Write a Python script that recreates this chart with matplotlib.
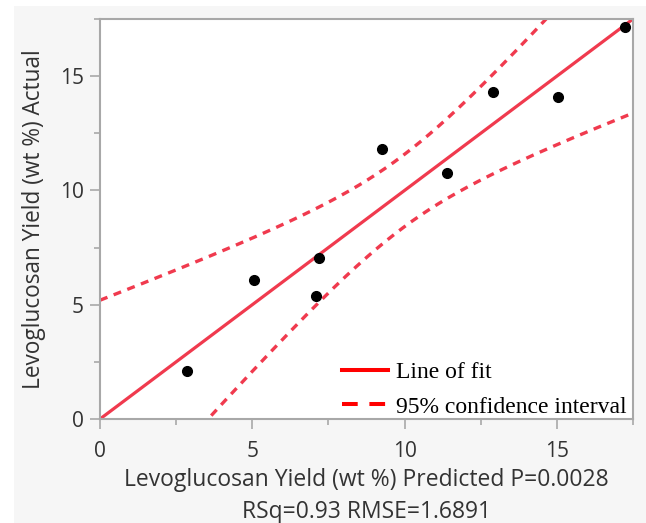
import matplotlib
matplotlib.use('Agg')
from matplotlib import pyplot
from matplotlib.lines import Line2D
from matplotlib.patches import Rectangle
import numpy as np

# predicted vs actual levoglucosan yield (wt %)
predicted = [2.85, 5.05, 7.1, 7.2, 9.25, 11.4, 12.9, 15.05, 17.25]
actual = [2.1, 6.1, 5.4, 7.05, 11.8, 10.75, 14.3, 14.1, 17.15]

# line of fit and band shape
fit_slope = 1.0
fit_intercept = 0.0
band_center = 9.9
band_a = 2.5
band_b = 0.25

x_ticks = [0, 5, 10, 15]
y_ticks = [0, 5, 10, 15]

fig = pyplot.figure(figsize=(6.46, 5.23), dpi=100)
fig.patch.set_facecolor('white')
fig.patches.append(Rectangle((14 / 646, 0), 1, 1 - 6 / 523, transform=fig.transFigure,
                             facecolor='#f6f6f6', edgecolor='none', zorder=-10))

ax = fig.add_axes([100 / 646, 104 / 523, 533 / 646, 400 / 523])
ax.set_facecolor('white')

xx = np.linspace(0, 17.5, 300)
fit = fit_intercept + fit_slope * xx
half = np.sqrt(band_a + band_b * (xx - band_center) ** 2)
line_col = '#f03a4e'
ax.plot(xx, fit, color=line_col, lw=2.3, zorder=2)
ax.plot(xx, fit + half, color=line_col, lw=2.4, ls=(0, (2.4, 2.0)), zorder=2)
ax.plot(xx, fit - half, color=line_col, lw=2.4, ls=(0, (2.4, 2.0)), zorder=2)
ax.plot(predicted, actual, 'o', color='black', ms=7, zorder=3)

ax.set_xlim(0, 17.5)
ax.set_ylim(0, 17.5)
ax.set_xticks(x_ticks)
ax.set_yticks(y_ticks)
ax.set_xticks([2.5, 7.5, 12.5, 17.5], minor=True)
ax.set_yticks([2.5, 7.5, 12.5, 17.5], minor=True)

for s in ax.spines.values():
    s.set_color('#a8a8a8')
    s.set_linewidth(1.5)
ax.tick_params(which='major', length=7.5, width=1.2, color='#a8a8a8',
               labelsize=15, labelcolor='#333333')
ax.tick_params(axis='x', which='major', pad=8)
ax.tick_params(axis='y', which='major', pad=4)
ax.tick_params(which='minor', length=4.5, width=1.2, color='#a8a8a8')
for lab in ax.get_xticklabels() + ax.get_yticklabels():
    lab.set_family('Open Sans')

ax.set_xlabel('Levoglucosan Yield (wt %) Predicted P=0.0028\nRSq=0.93 RMSE=1.6891',
              family='Open Sans', fontsize=16.5, color='#333333', labelpad=5,
              linespacing=1.42)
ax.set_ylabel('Levoglucosan Yield (wt %) Actual', family='Open Sans',
              fontsize=16.3, color='#333333', labelpad=10)

handles = [Line2D([], [], color='red', lw=2.9),
           Line2D([], [], color='red', lw=2.9, ls=(0, (3.9, 2.9)))]
ax.legend(handles, ['Line of fit', '95% confidence interval'], loc='lower right',
          bbox_to_anchor=(1 - 4 / 533, -1 / 400),
          frameon=False, prop={'family': 'Liberation Serif', 'size': 17},
          handlelength=1.95, handletextpad=0.35, labelspacing=0.56,
          borderaxespad=0.0, borderpad=0.1)

pyplot.savefig('out.png', dpi=100, facecolor=fig.get_facecolor())
